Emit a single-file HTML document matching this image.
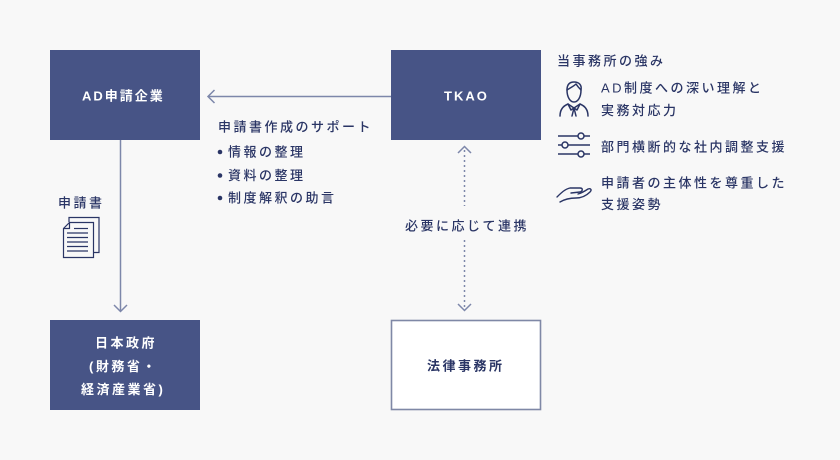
<!DOCTYPE html>
<html>
<head>
<meta charset="utf-8">
<style>
  html, body { margin: 0; padding: 0; background: #f8f8f8; }
  body { width: 840px; height: 460px; overflow: hidden; }
  svg { display: block; }
  .t { font-family: "Liberation Sans", "Noto Sans CJK JP", sans-serif; font-size: 13px; fill: #2a3565; letter-spacing: 2.5px; font-weight: 500; }
  .w { font-family: "Liberation Sans", "Noto Sans CJK JP", sans-serif; font-size: 13px; fill: #ffffff; letter-spacing: 2.5px; font-weight: 700; }
  .d { font-family: "Liberation Sans", "Noto Sans CJK JP", sans-serif; font-size: 13px; fill: #2a3565; letter-spacing: 2.5px; font-weight: 700; }
</style>
</head>
<body>
<svg width="840" height="460" viewBox="0 0 840 460" xmlns="http://www.w3.org/2000/svg">
  <rect x="0" y="0" width="840" height="460" fill="#f8f8f8"/>

  <!-- boxes -->
  <rect x="50" y="50" width="150" height="90" fill="#475486"/>
  <rect x="391" y="50" width="150" height="90" fill="#475486"/>
  <rect x="50" y="320" width="150" height="90" fill="#475486"/>
  <rect x="391.5" y="320.5" width="149" height="89" fill="#ffffff" stroke="#7f88a6" stroke-width="1.6"/>

  <!-- box labels -->
  <text class="w" x="82" y="96" dominant-baseline="central" style="letter-spacing:2px;">AD申請企業</text>
  <text class="w" x="444" y="96" dominant-baseline="central" style="font-family:'Liberation Sans',sans-serif;letter-spacing:2px;">TKAO</text>
  <text class="w" x="95" y="343" dominant-baseline="central">日本政府</text>
  <text class="w" x="89" y="366.5" dominant-baseline="central">(財務省・</text>
  <text class="w" x="81" y="389.5" dominant-baseline="central">経済産業省)</text>
  <text class="d" x="427" y="366" dominant-baseline="central">法律事務所</text>

  <!-- horizontal arrow TKAO -> AD -->
  <line x1="208" y1="96.5" x2="391" y2="96.5" stroke="#7d87aa" stroke-width="1.5"/>
  <polyline points="214.5,90 208,96.5 214.5,103" fill="none" stroke="#7d87aa" stroke-width="1.5"/>

  <!-- vertical arrow AD -> 日本政府 -->
  <line x1="120.5" y1="140" x2="120.5" y2="311" stroke="#7d87aa" stroke-width="1.5"/>
  <polyline points="114,305 120.5,311.5 127,305" fill="none" stroke="#7d87aa" stroke-width="1.5"/>

  <!-- dotted bi-directional -->
  <polyline points="458,153 464.5,146.5 471,153" fill="none" stroke="#7d87aa" stroke-width="1.5"/>
  <line x1="464.5" y1="150" x2="464.5" y2="206" stroke="#7d87aa" stroke-width="1.5" stroke-dasharray="2 3"/>
  <line x1="464.5" y1="240" x2="464.5" y2="309" stroke="#7d87aa" stroke-width="1.5" stroke-dasharray="2 3"/>
  <polyline points="458,304 464.5,310.5 471,304" fill="none" stroke="#7d87aa" stroke-width="1.5"/>
  <text class="t" x="405" y="226" dominant-baseline="central">必要に応じて連携</text>

  <!-- support text -->
  <text class="t" x="218" y="127" dominant-baseline="central">申請書作成のサポート</text>
  <circle cx="220" cy="152" r="2.3" fill="#2a3565"/>
  <text class="t" x="228" y="152" dominant-baseline="central">情報の整理</text>
  <circle cx="220" cy="175.5" r="2.3" fill="#2a3565"/>
  <text class="t" x="228" y="175.5" dominant-baseline="central">資料の整理</text>
  <circle cx="220" cy="198" r="2.3" fill="#2a3565"/>
  <text class="t" x="228" y="198" dominant-baseline="central">制度解釈の助言</text>

  <!-- 申請書 label + doc icon -->
  <text class="t" x="58" y="203" dominant-baseline="central">申請書</text>
  <g fill="none" stroke="#2a3565" stroke-width="1.2">
    <polyline points="69,222 69,217.5 99,217.5 99,252.5 93.5,252.5"/>
    <polygon points="69.5,222.5 93.5,222.5 93.5,257.5 63.5,257.5 63.5,228.5" fill="#f8f8f8"/>
    <polyline points="63.5,228.5 69.5,228.5 69.5,222.5"/>
    <line x1="74" y1="228.5" x2="88" y2="228.5"/>
    <line x1="67" y1="233" x2="88" y2="233"/>
    <line x1="67" y1="237.5" x2="88" y2="237.5"/>
    <line x1="67" y1="242" x2="88" y2="242"/>
    <line x1="67" y1="246.5" x2="88" y2="246.5"/>
    <line x1="67" y1="251" x2="88" y2="251"/>
  </g>

  <!-- strengths -->
  <text class="t" x="557" y="61" dominant-baseline="central">当事務所の強み</text>

  <!-- person icon -->
  <g fill="none" stroke="#2a3565" stroke-width="1.5" stroke-linecap="round" stroke-linejoin="round">
    <path d="M567,90 C567,84 570,82 574,82 C579,82 582,85 581,90 C581,97 578,102 574,102 C570,102 567,97 567,90 Z"/>
    <path d="M567,90 C570,88 574,86 576,84 C578,87 580,89 581,90"/>
    <path d="M560,116 C560,110 563,106 568,104 L574,108 L580,104 C585,106 588,110 588,116"/>
    <path d="M574,108 L572,116 M574,108 L576,116"/>
    <path d="M568,104 L571,110 L574,108 L577,110 L580,104"/>
  </g>
  <text class="t" x="601" y="88" dominant-baseline="central">AD制度への深い理解と</text>
  <text class="t" x="601" y="110.5" dominant-baseline="central">実務対応力</text>

  <!-- sliders icon -->
  <g fill="none" stroke="#2a3565" stroke-width="1.5">
    <line x1="558" y1="136" x2="578" y2="136"/>
    <line x1="584" y1="136" x2="590" y2="136"/>
    <circle cx="581" cy="136" r="3"/>
    <line x1="558" y1="145" x2="562" y2="145"/>
    <line x1="568" y1="145" x2="590" y2="145"/>
    <circle cx="565" cy="145" r="3"/>
    <line x1="558" y1="154" x2="578" y2="154"/>
    <line x1="584" y1="154" x2="590" y2="154"/>
    <circle cx="581" cy="154" r="3"/>
  </g>
  <text class="t" x="601" y="147" dominant-baseline="central">部門横断的な社内調整支援</text>

  <!-- hand icon -->
  <g fill="none" stroke="#2a3565" stroke-width="1.4" stroke-linecap="round" stroke-linejoin="round">
    <path d="M557,197 C561,193 565,189 570,188 L580,188 C583,188 583,191 580,192 L571,193"/>
    <path d="M560,202 C565,199 570,198 576,198 C582,198 586,196 590,192 C592,190 591,188 588,189 C585,191 582,193 578,194"/>
  </g>
  <text class="t" x="601" y="183" dominant-baseline="central">申請者の主体性を尊重した</text>
  <text class="t" x="601" y="204.5" dominant-baseline="central">支援姿勢</text>
</svg>
</body>
</html>
